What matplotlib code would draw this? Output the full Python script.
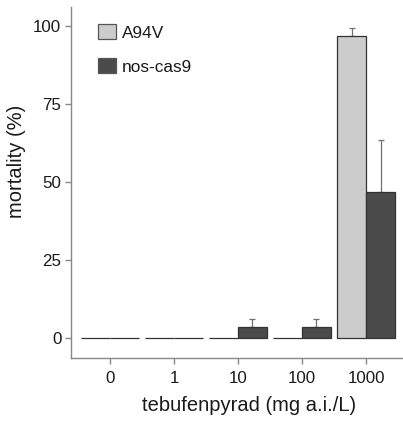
import matplotlib
matplotlib.use("Agg")
import matplotlib.pyplot as plt
import numpy as np
from matplotlib.patches import Rectangle

plt.rcParams['font.family'] = ['Liberation Sans', 'DejaVu Sans']

doses = ["0", "1", "10", "100", "1000"]
a94v = [0, 0, 0, 0, 96.7]
a94v_err = [0, 0, 0, 0, 2.7]
nos = [0, 0, 3.3, 3.3, 46.7]
nos_err = [0, 0, 2.6, 2.6, 16.8]
yticks = [0, 25, 50, 75, 100]
series_names = ["A94V", "nos-cas9"]

W, H = 403, 421
fig = plt.figure(figsize=(W/100, H/100), dpi=100)
ax = fig.add_axes([71/W, (H-358)/H, (403-71)/W, (358-7)/H])

x = np.arange(len(doses))
bw = 0.453
light = "#cccccc"
dark = "#4b4b4b"
edge = "#333333"
ax.bar(x - bw/2, a94v, bw, color=light, edgecolor=edge, linewidth=0.9, zorder=2)
ax.bar(x + bw/2, nos, bw, color=dark, edgecolor=edge, linewidth=0.9, zorder=2)

for xs, vals, errs in [(x - bw/2, a94v, a94v_err), (x + bw/2, nos, nos_err)]:
    for xi, v, e in zip(xs, vals, errs):
        if e > 0:
            ax.errorbar([xi], [v], yerr=[[0], [e]], fmt='none', ecolor="#707070",
                        elinewidth=0.9, capsize=2.5, capthick=0.9, zorder=1)

ax.set_xlim(-0.609, 4.578)
ax.set_ylim(-6.5, 106.0)
ax.set_xticks(x)
ax.set_xticklabels(doses)
ax.set_yticks(yticks)
ax.set_yticklabels([str(t) for t in yticks])

for s in ['top', 'right']:
    ax.spines[s].set_visible(False)
for s in ['left', 'bottom']:
    ax.spines[s].set_color("#888888")
    ax.spines[s].set_linewidth(1.0)
ax.tick_params(axis='both', colors="#888888", labelcolor="#1a1a1a", labelsize=12.2,
               length=4, width=1.0)
ax.tick_params(axis='x', pad=5.5)
ax.tick_params(axis='y', pad=3)

fig.text(249/W, 1 - 411/H, "tebufenpyrad (mg a.i./L)", ha='center', va='baseline',
         fontsize=14.5, color="#1a1a1a")
fig.text(16.5/W, 1 - 161/H, "mortality (%)", rotation=90, ha='center', va='center',
         fontsize=14.5, color="#1a1a1a")

# legend (drawn manually to match box geometry)
for i, (name, col) in enumerate(zip(series_names, [light, dark])):
    y_top = 24 + i * 34
    fig.patches.append(Rectangle((98/W, 1 - (y_top + 15)/H), 17.5/W, 15/H,
                                 transform=fig.transFigure, facecolor=col,
                                 edgecolor="#555555", linewidth=0.9))
    fig.text(122/W, 1 - (y_top + 7.5)/H, name, ha='left', va='center_baseline',
             fontsize=12.4, color="#1a1a1a")

fig.savefig("out.png", dpi=100)
